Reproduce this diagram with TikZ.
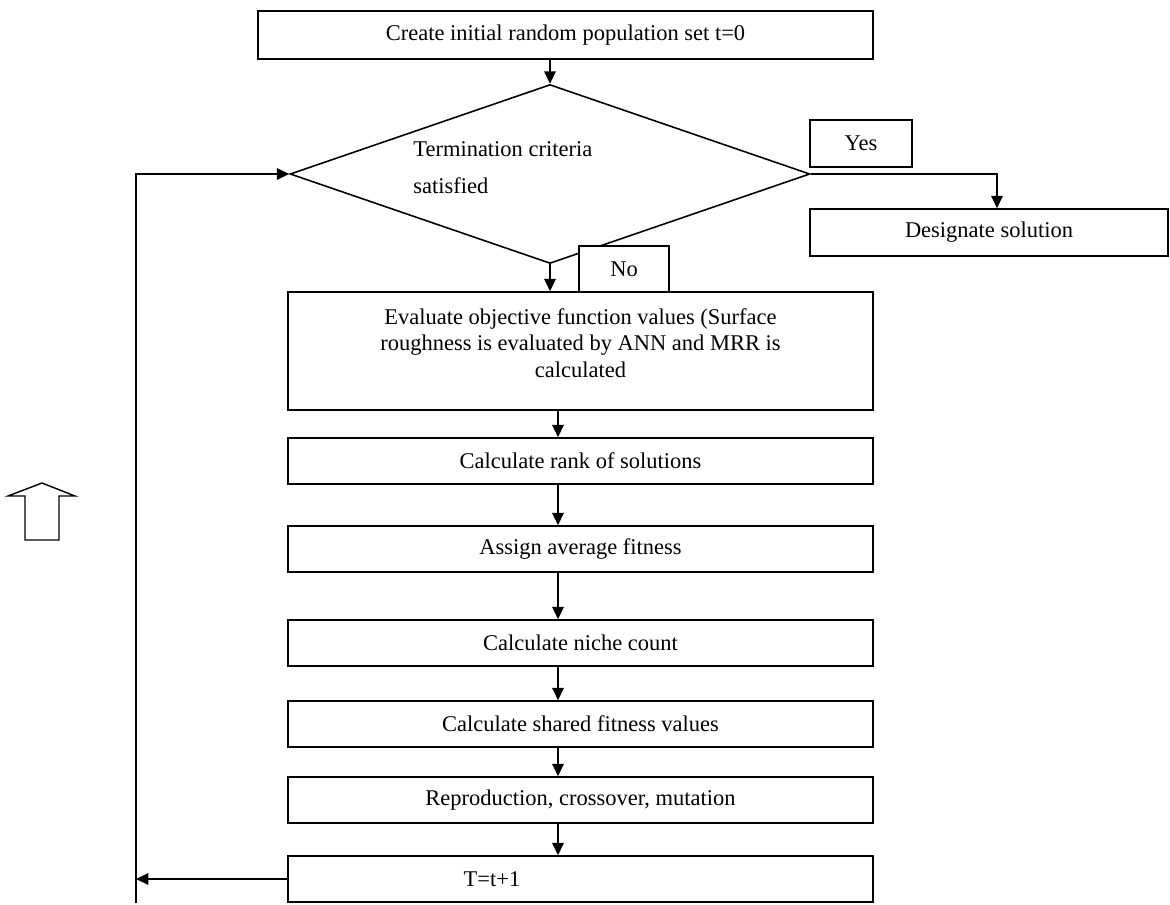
\documentclass[tikz,border=0pt]{standalone}
\usepackage{fontspec}
\setmainfont{Liberation Serif}
\usetikzlibrary{shapes.geometric,arrows.meta}

\begin{document}
\begin{tikzpicture}[x=0.02cm,y=-0.02cm,
                    box/.style={draw,line width=0.9pt,fill=white,minimum width=11.7cm,minimum height=0.92cm,inner sep=0pt,font=\fontsize{12.8}{15}\selectfont},
                    flow/.style={line width=0.9pt,-{Triangle[length=7pt,width=6.5pt]}}]
                      \useasboundingbox (0,0) rectangle (1170,904);
                      \node[box,minimum width=12.3cm,minimum height=0.96cm](init)at(565.5,35){Create initial random population set t=0};
                      \node[draw,diamond,line width=0.9pt,minimum width=10.4cm,minimum height=3.58cm,inner sep=0pt](term)at(550,174){};
                      \node[anchor=west,align=left,inner sep=0pt,font=\fontsize{12.8}{15}\selectfont](termtxt)at(413,168){Termination criteria\\[6pt]satisfied};
                      \node[box,minimum width=2.04cm,minimum height=0.94cm](yes)at(861,143.5){Yes\hspace{0.35cm}};
                      \node[box,minimum width=7.16cm,minimum height=0.94cm](design)at(989,232.5){Designate solution};
                      \node[box,minimum height=2.36cm,label={[font=\fontsize{12.8}{15}\selectfont,align=center,yshift=0.16cm]center:Evaluate objective function values (Surface\\roughness is evaluated by ANN and MRR is\\calculated}](eval)at(580.5,351){};
                      \node[box](rank)at(580.5,461){Calculate rank of solutions};
                      \node[box](assign)at(580.5,549){Assign average fitness};
                      \node[box](niche)at(580.5,643){Calculate niche count};
                      \node[box](shared)at(580.5,724){Calculate shared fitness values};
                      \node[box](repro)at(580.5,800){Reproduction, crossover, mutation};
                      \node[box,label={[font=\fontsize{12.8}{15}\selectfont,xshift=-1.77cm]center:T=t+1}](tnext)at(580.5,879){};
                      \draw[flow] (term.north |- init.south) -- (term.north);
                      \draw[flow] (term.east) -| ([xshift=0.16cm]design.north);
                      \draw[flow] (term.south) -- (term.south |- eval.north);
                      \node[box,minimum width=1.8cm](no)at(624,269){No};
                      \foreach \a/\b in {eval/rank,rank/assign,assign/niche,niche/shared,shared/repro,repro/tnext}
                        \draw[flow] ([xshift=-0.45cm]\a.south) -- ([xshift=-0.45cm]\b.north);
                      \coordinate (lpbot) at (136,903);
                      \coordinate (lpin) at (136,879);
                      \draw[flow] (tnext.west) -- (lpin);
                      \draw[flow] (lpbot) -- (lpbot |- term.west) -- (term.west);
                      \draw[line width=0.8pt] (25,540) -- (25,496) -- (8,496) -- (42,483) -- (75,496) -- (59,496) -- (59,540) -- cycle;
                  \end{tikzpicture}
\end{document}
